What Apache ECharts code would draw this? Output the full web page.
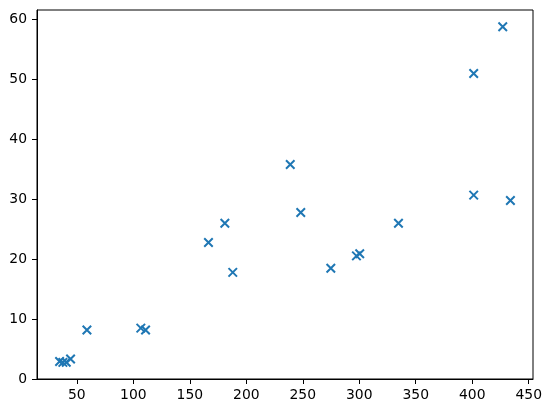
<!DOCTYPE html>
<html>
<head>
<meta charset="utf-8">
<script src="https://cdn.jsdelivr.net/npm/echarts@6/dist/echarts.min.js"></script>
<style>html,body{margin:0;padding:0;background:#fff;}#c{width:552px;height:413px;}</style>
</head>
<body>
<div id="c"></div>
<script>
const xValues = [34.7, 37.6, 40.6, 44.4, 58.9, 106.6, 110.8, 166.5, 181.0, 188.0, 238.9, 248.2, 274.8, 297.5, 300.4, 334.7, 401.3, 401.3, 427.0, 433.8];
const yValues = [2.93, 2.77, 2.8, 3.33, 8.17, 8.5, 8.17, 22.8, 26.0, 17.8, 35.8, 27.8, 18.5, 20.55, 20.9, 26.0, 51.0, 30.7, 58.8, 29.8];
const xTicks = [50, 100, 150, 200, 250, 300, 350, 400, 450];
const yTicks = [0, 10, 20, 30, 40, 50, 60];

const points = xValues.map((x, i) => [x, yValues[i]]);
const chart = echarts.init(document.getElementById('c'), null, {renderer: 'canvas'});
const font = {fontFamily: 'DejaVu Sans', fontSize: 13.9, color: '#000'};
chart.setOption({
  animation: false,
  backgroundColor: '#fff',
  grid: {left: 37, right: 19, top: 10, bottom: 34, show: true, borderColor: '#000', borderWidth: 1, backgroundColor: 'transparent'},
  xAxis: {
    type: 'value', min: 14.7, max: 453.8,
    splitLine: {show: false},
    axisLine: {show: true, onZero: false, lineStyle: {color: '#000', width: 1}},
    axisTick: {show: true, length: 5, lineStyle: {color: '#000', width: 1}, customValues: xTicks},
    axisLabel: Object.assign({margin: 9, customValues: xTicks, showMinLabel: true, showMaxLabel: true}, font)
  },
  yAxis: {
    type: 'value', min: 0, max: 61.6,
    splitLine: {show: false},
    axisLine: {show: true, onZero: false, lineStyle: {color: '#000', width: 1}},
    axisTick: {show: true, length: 5, lineStyle: {color: '#000', width: 1}, customValues: yTicks},
    axisLabel: Object.assign({margin: 10, customValues: yTicks}, font)
  },
  series: [{
    type: 'scatter',
    data: points,
    symbol: 'path://M0,0L10,10M10,0L0,10',
    symbolSize: 8.5,
    itemStyle: {color: 'rgba(0,0,0,0)', borderColor: '#1f77b4', borderWidth: 2, opacity: 1}
  }]
});
</script>
</body>
</html>
